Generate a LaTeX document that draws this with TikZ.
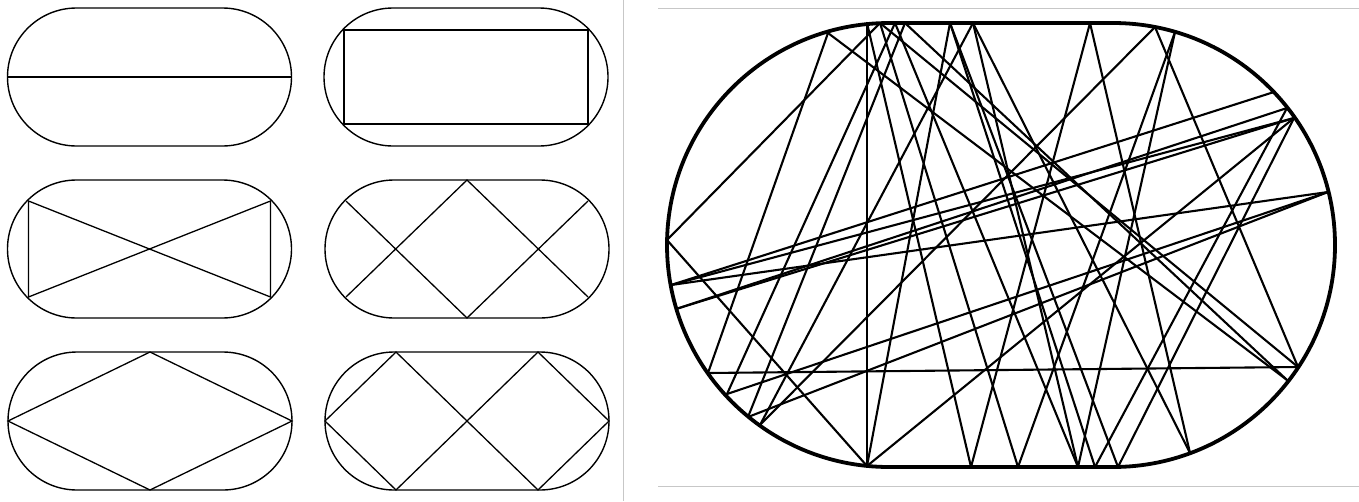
\documentclass[tikz,border=0pt]{standalone}
\usepackage{tikz}
\tikzset{
  fal/.style={line width=1.4pt},
  ut/.style={line width=1.3pt},
  nagyfal/.style={line width=3.8pt},
  nagyut/.style={line width=2.1pt,line cap=round},
  keret/.style={draw=black!22,line width=1pt},
}
% stadium outline: half flat length, radius
\newcommand{\stadion}[2]{(-#1,-#2) -- (#1,-#2) arc[start angle=-90,end angle=90,radius=#2]
  -- (-#1,#2) arc[start angle=90,end angle=270,radius=#2] -- cycle}

\begin{document}
\begin{tikzpicture}[x=1pt,y=-1pt]
  \useasboundingbox (0,0) rectangle (1359,501);
  \draw[keret] (623,0) -- (623,501);
  \draw[keret] (658,8) -- (1359,8);
  \draw[keret] (658,486) -- (1359,486);

  % periodic orbits
  \begin{scope}[shift={(149.5,77)}]
    \draw[fal] \stadion{73}{69};
    \draw[ut] (-142,0) -- (142,0);
  \end{scope}
  \begin{scope}[shift={(466,77)}]
    \draw[fal] \stadion{73}{69};
    \draw[ut] (-122,-47) -- (122,-47) -- (122,47) -- (-122,47) -- cycle;
  \end{scope}
  \begin{scope}[shift={(149.5,249)}]
    \draw[fal] \stadion{73}{69};
    \draw[ut] (-121,-48) -- (-121,48) -- (121,-48) -- (121,48) -- cycle;
  \end{scope}
  \begin{scope}[shift={(467,249)}]
    \draw[fal] \stadion{73}{69};
    \draw[ut] (-121,-48) -- (0,69) -- (121,-48);
    \draw[ut] (-121,48) -- (0,-69) -- (121,48);
  \end{scope}
  \begin{scope}[shift={(150,421)}]
    \draw[fal] \stadion{73}{69};
    \draw[ut] (-142,0) -- (0,-69) -- (142,0) -- (0,69) -- cycle;
  \end{scope}
  \begin{scope}[shift={(467,421)}]
    \draw[fal] \stadion{73}{69};
    \draw[ut] (-142,0) -- (-71,-69) -- (71,69) -- (142,0) -- (71,-69) -- (-71,69) -- cycle;
  \end{scope}

  % chaotic orbit
  \coordinate (T1) at (828,33);  \coordinate (T2) at (867,23);
  \coordinate (T3) at (880,23);  \coordinate (T4) at (895,23);
  \coordinate (T5) at (905,23);  \coordinate (T6) at (950,23);
  \coordinate (T7) at (973,23);  \coordinate (T8) at (1090,23);
  \coordinate (T9) at (1155,27); \coordinate (T10) at (1175,32);
  \coordinate (B1) at (867,466); \coordinate (B2) at (971,467);
  \coordinate (B3) at (1018,467);\coordinate (B4) at (1078,467);
  \coordinate (B5) at (1095,467);\coordinate (B6) at (1118,467);
  \coordinate (B7) at (1190,453);
  \coordinate (L1) at (667,240); \coordinate (L2) at (671,285);
  \coordinate (L3) at (676,309); \coordinate (L4) at (708,373);
  \coordinate (L5) at (727,394); \coordinate (L6) at (748,417);
  \coordinate (L7) at (760,425);
  \coordinate (R1) at (1274,92); \coordinate (R2) at (1287,108);
  \coordinate (R3) at (1294,118);\coordinate (R4) at (1328,192);
  \coordinate (R5) at (1298,367);\coordinate (R6) at (1287,380);
  \foreach \a/\b in {T2/B1,L4/R5,L1/T3,L1/B1,T1/L4,T1/R6,L2/R1,L2/R3,L3/R2,L3/R3,
      L2/R4,L5/R4,L6/R4,R2/B5,R3/B6,B1/R3,B1/T6,B2/T2,B2/T8,B3/T3,B3/T10,B4/T7,
      B4/T10,B5/T6,B6/T6,B7/T8,B7/T7,T9/L7,T9/R5,T3/R5,T5/R6,L5/T4,L6/T5,L7/T7,T4/B4}
    \draw[nagyut] (\a) -- (\b);
  \draw[nagyfal] (889,23) -- (1113,23) arc[start angle=-90,end angle=90,radius=222]
    -- (889,467) arc[start angle=90,end angle=270,radius=222] -- cycle;
\end{tikzpicture}
\end{document}
